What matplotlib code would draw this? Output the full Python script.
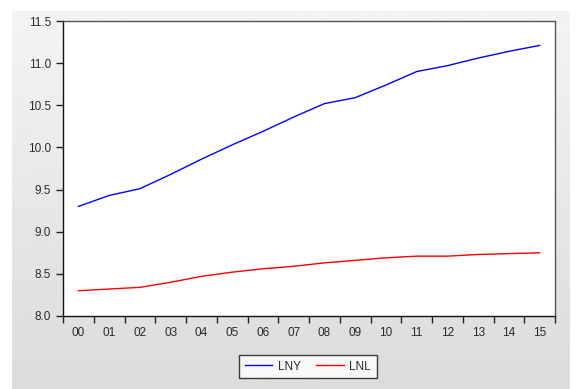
import matplotlib
matplotlib.use("Agg")
import matplotlib.pyplot as plt
import numpy as np

# data (log levels, 2000-2015)
years = ["00", "01", "02", "03", "04", "05", "06", "07",
         "08", "09", "10", "11", "12", "13", "14", "15"]
lny = [9.30, 9.43, 9.51, 9.68, 9.86, 10.03, 10.19, 10.36,
       10.52, 10.59, 10.74, 10.90, 10.97, 11.06, 11.14, 11.21]
lnl = [8.30, 8.32, 8.34, 8.40, 8.47, 8.52, 8.56, 8.59,
       8.63, 8.66, 8.69, 8.71, 8.71, 8.73, 8.74, 8.75]

plt.rcParams["font.family"] = ["Liberation Sans", "DejaVu Sans"]

W, H = 577, 389
fig = plt.figure(figsize=(W / 100, H / 100), dpi=100)

# grey gradient panel behind the chart
bg = fig.add_axes([12 / W, 0, (570 - 12) / W, (H - 11) / H])
grad = np.linspace(0.955, 0.86, 256).reshape(-1, 1)
bg.imshow(grad, aspect="auto", cmap="gray", vmin=0, vmax=1, extent=[0, 1, 0, 1])
bg.set_axis_off()

ax = fig.add_axes([63 / W, 1 - 316 / H, (555 - 63) / W, (316 - 21) / H])
x = np.arange(len(years))
ax.plot(x, lny, color="#0000ff", lw=1.0, label="LNY")
ax.plot(x, lnl, color="#ff0000", lw=1.0, label="LNL")

ax.set_xlim(-0.5, len(years) - 0.5)
ax.set_ylim(8.0, 11.5)
ax.set_yticks(np.arange(8.0, 11.51, 0.5))
ax.set_yticklabels([f"{v:.1f}" for v in np.arange(8.0, 11.51, 0.5)])

# tick marks between years, labels centred on each year
ax.set_xticks(np.arange(-0.5, len(years), 1.0))
ax.set_xticklabels([])
ax.set_xticks(x, minor=True)
ax.set_xticklabels(years, minor=True)
ax.tick_params(axis="x", which="minor", length=0, pad=8)
ax.tick_params(axis="both", which="major", direction="out", length=5,
               width=1, color="#222222")
ax.tick_params(labelsize=8.5, labelcolor="#2a2a2a", which="both")

for s in ["left", "bottom"]:
    ax.spines[s].set_color("#111111")
    ax.spines[s].set_linewidth(1.0)
for s in ["top", "right"]:
    ax.spines[s].set_color("#555555")
    ax.spines[s].set_linewidth(1.0)

leg = fig.legend(loc="center", bbox_to_anchor=(308 / W, 1 - 366.5 / H), ncol=2,
                 fontsize=8.5, frameon=True, fancybox=False, handlelength=2.3,
                 columnspacing=1.3, borderpad=0.5, handletextpad=0.5)
leg.get_frame().set_edgecolor("#111111")
leg.get_frame().set_linewidth(1.0)
for t in leg.get_texts():
    t.set_color("#2a2a2a")

fig.savefig("out.png", dpi=100)
